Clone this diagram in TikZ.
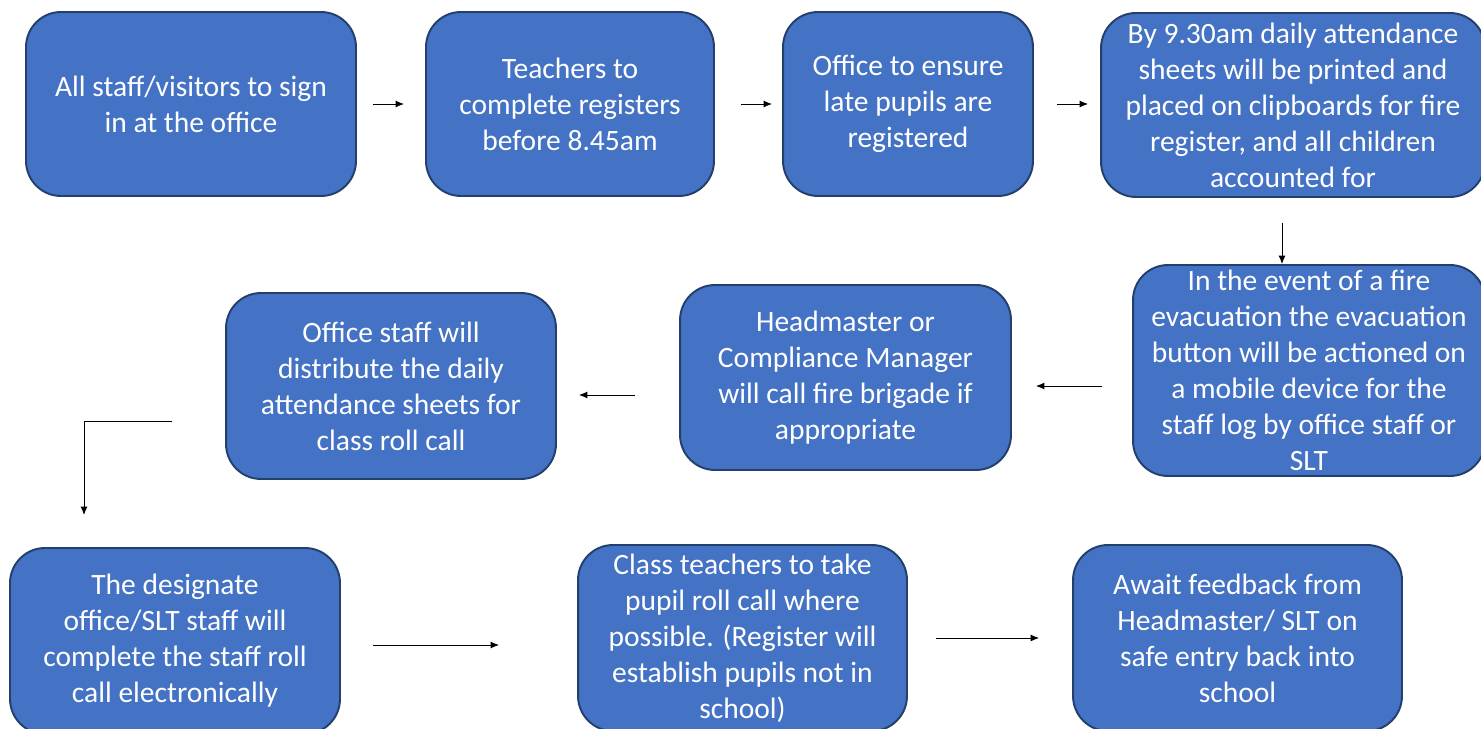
\documentclass[tikz,border=0pt]{standalone}
\usepackage{fontspec}
\setmainfont{Carlito}
\usetikzlibrary{arrows.meta}
\definecolor{boxfill}{HTML}{4472C4}
\definecolor{boxline}{HTML}{233F6C}

\begin{document}
\begin{tikzpicture}[x=0.02cm,y=-0.02cm,>={Latex[length=0.17cm,width=0.14cm]}]
  \tikzstyle{flowbox}=[draw=boxline,fill=boxfill,line width=1.1pt,rounded corners=0.7cm,
    text=white,align=center,inner sep=0pt,font=\fontsize{16.8}{20.5}\selectfont]
  \tikzstyle{link}=[->,draw=black,line width=0.55pt]

  \useasboundingbox (0,0) rectangle (1481,729);
  \clip (0,0) rectangle (1481,729);

  % top row
  \node[flowbox,minimum width=6.6cm,minimum height=3.68cm] (S-1) at (191,104)
    {All staff/visitors to sign\\in at the office};
  \node[flowbox,minimum width=5.76cm,minimum height=3.68cm] (S-2) at (570,104)
    {Teachers to\\complete registers\\before 8.45am};
  \node[flowbox,minimum width=5.0cm,minimum height=3.68cm] (S-3) at (908,104)
    {Office to ensure\\late pupils are\\registered};
  \node[flowbox,minimum width=7.68cm,minimum height=3.68cm] (S-4) at (1293,105)
    {By 9.30am daily attendance\\sheets will be printed and\\placed on clipboards for fire\\register, and all children\\accounted for};

  % middle row
  \node[flowbox,minimum width=7.04cm,minimum height=4.22cm] (S-5) at (1309,370.5)
    {In the event of a fire\\evacuation the evacuation\\button will be actioned on\\a mobile device for the\\staff log by office staff or\\SLT};
  \node[flowbox,minimum width=6.62cm,minimum height=3.7cm] (S-6) at (845.5,377.5)
    {Headmaster or\\Compliance Manager\\will call fire brigade if\\appropriate};
  \node[flowbox,minimum width=6.6cm,minimum height=3.72cm] (S-7) at (391,386)
    {Office staff will\\distribute the daily\\attendance sheets for\\class roll call};

  % bottom row
  \node[flowbox,minimum width=6.6cm,minimum height=3.72cm] (S-8) at (175,641)
    {The designate\\office/SLT staff will\\complete the staff roll\\call electronically};
  \node[flowbox,minimum width=6.58cm,minimum height=3.72cm] (S-9) at (742.5,638)
    {Class teachers to take\\pupil roll call where\\possible. (Register will\\establish pupils not in\\school)};
  \node[flowbox,minimum width=6.58cm,minimum height=3.72cm] (S-10) at (1237.5,638)
    {Await feedback from\\Headmaster/ SLT on\\safe entry back into\\school};

  \draw[link,shorten <=0.32cm,shorten >=0.42cm] (S-1) -- (S-2);
  \draw[link,shorten <=0.52cm,shorten >=0.2cm] (S-2) -- (S-3);
  \draw[link,shorten <=0.46cm,shorten >=0.24cm] (S-3.east) -- (S-3.east -| S-4.west);
  \draw[link,shorten <=0.5cm] ([xshift=-0.22cm]S-4.south) -- ([xshift=-0.22cm]S-4.south |- S-5.north);
  \draw[link,shorten <=0.6cm,shorten >=0.48cm] ([yshift=-0.31cm]S-5.west) -- ([yshift=-0.31cm]S-5.west -| S-6.east);
  \draw[link,shorten <=0.88cm,shorten >=0.44cm] ([yshift=-0.35cm]S-6.west) -- ([yshift=-0.35cm]S-6.west -| S-7.east);
  \draw[link,shorten <=1.06cm,shorten >=0.64cm] ([yshift=-0.7cm]S-7.west) -| ([xshift=-1.82cm]S-8.north);
  \draw[link,shorten <=0.64cm,shorten >=1.56cm] ([yshift=-0.08cm]S-8.east) -- ([yshift=-0.08cm]S-8.east -| S-9.west);
  \draw[link,shorten <=0.56cm,shorten >=0.66cm] (S-9) -- (S-10);

\end{tikzpicture}
\end{document}
